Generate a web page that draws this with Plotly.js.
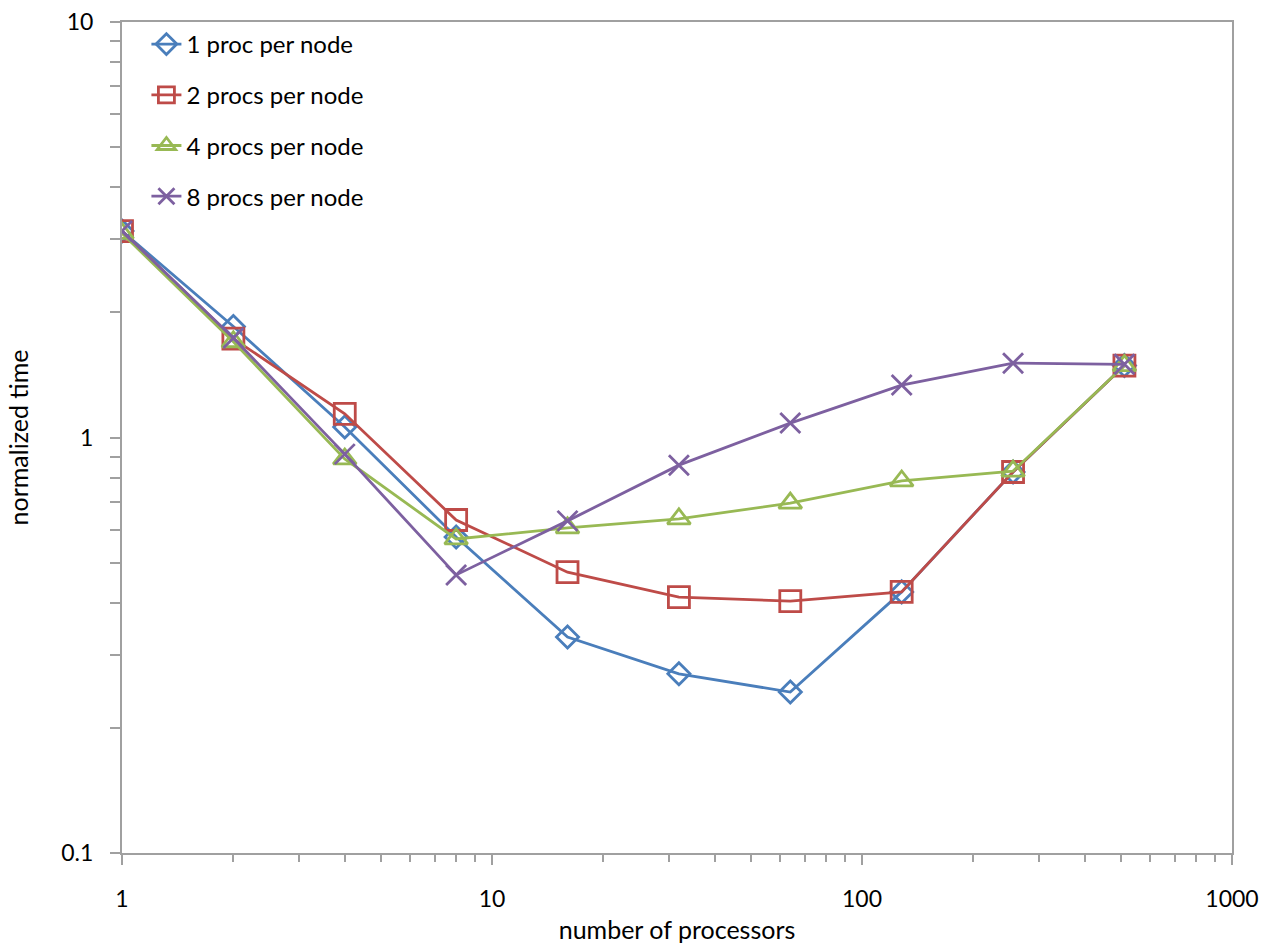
<!DOCTYPE html>
<html>
<head>
<meta charset="utf-8">
<script src="https://cdn.plot.ly/plotly-3.0.1.min.js"></script>
<style>html,body{margin:0;padding:0;background:#fff;}#chart{width:1262px;height:944px;}</style>
</head>
<body>
<div id="chart"></div>
<script>
const procs = [1, 2, 4, 8, 16, 32, 64, 128, 256, 512];
const seriesNames = ['1 proc per node', '2 procs per node', '4 procs per node', '8 procs per node'];
const onePerNode   = [3.14, 1.85, 1.06, 0.576, 0.331, 0.270, 0.244, 0.425, 0.826, 1.49];
const twoPerNode   = [3.14, 1.73, 1.14, 0.633, 0.474, 0.413, 0.404, 0.425, 0.826, 1.49];
const fourPerNode  = [3.10, 1.70, 0.888, 0.570, 0.606, 0.637, 0.695, 0.786, 0.830, 1.49];
const eightPerNode = [3.14, 1.735, 0.912, 0.467, 0.630, 0.858, 1.083, 1.337, 1.51, 1.50];
const xTickLabels = ['1', '10', '100', '1000'];
const yTickLabels = ['0.1', '1', '10'];

const colors = ['#4A7EBB', '#BE4B48', '#98B954', '#7D60A0'];
const symbols = ['diamond-open', 'square-open', 'triangle-up-open', 'x-thin-open'];
const sizes = [17, 21, 20, 20];
const values = [onePerNode, twoPerNode, fourPerNode, eightPerNode];

const traces = values.map((v, i) => ({
  x: procs, y: v, name: seriesNames[i], type: 'scatter', mode: 'lines+markers',
  legendgroup: 'g' + i,
  line: {color: colors[i], width: 2.8},
  marker: {symbol: symbols[i], size: sizes[i], color: colors[i], line: {color: colors[i], width: 2.8}}
}));

function minorVals(lo, hi) {
  const out = [];
  for (let d = lo; d < hi; d *= 10) for (let k = 2; k <= 9; k++) out.push(k * d);
  return out;
}

const font = {family: 'Lato, "Open Sans", sans-serif', color: '#000'};
const layout = {
  width: 1262, height: 944,
  margin: {l: 122, r: 30, t: 22, b: 91},
  paper_bgcolor: '#fff', plot_bgcolor: '#fff',
  showlegend: true,
  legend: {x: 0.022, y: 1.0, xanchor: 'left', yanchor: 'top', bgcolor: 'rgba(0,0,0,0)',
           font: Object.assign({size: 24}, font), traceorder: 'grouped', tracegroupgap: 16.5},
  xaxis: {
    type: 'log', range: [0, 3],
    tickmode: 'array', tickvals: [1, 10, 100, 1000], ticktext: xTickLabels,
    ticks: 'outside', ticklen: 10, tickcolor: '#A0A0A0', tickwidth: 1.5,
    showline: true, linecolor: '#A0A0A0', linewidth: 2, mirror: true,
    showgrid: false, zeroline: false,
    tickfont: Object.assign({size: 23}, font), ticklabelstandoff: 14,
    minor: {ticks: 'outside', ticklen: 7, tickcolor: '#A0A0A0', tickwidth: 1.5, tickvals: minorVals(1, 1000), showgrid: false},
    title: {text: 'number of processors', font: Object.assign({size: 25}, font), standoff: 14}
  },
  yaxis: {
    type: 'log', range: [-1, 1],
    tickmode: 'array', tickvals: [0.1, 1, 10], ticktext: yTickLabels,
    ticks: 'outside', ticklen: 10, tickcolor: '#A0A0A0', tickwidth: 1.5,
    showline: true, linecolor: '#A0A0A0', linewidth: 2, mirror: true,
    showgrid: false, zeroline: false,
    tickfont: Object.assign({size: 23}, font), ticklabelstandoff: 12,
    minor: {ticks: 'outside', ticklen: 10, tickcolor: '#A0A0A0', tickwidth: 1.5, tickvals: minorVals(0.1, 10), showgrid: false},
    title: {text: 'normalized time', font: Object.assign({size: 25}, font), standoff: 26}
  }
};

Plotly.newPlot('chart', traces, layout, {displayModeBar: false});
</script>
</body>
</html>
